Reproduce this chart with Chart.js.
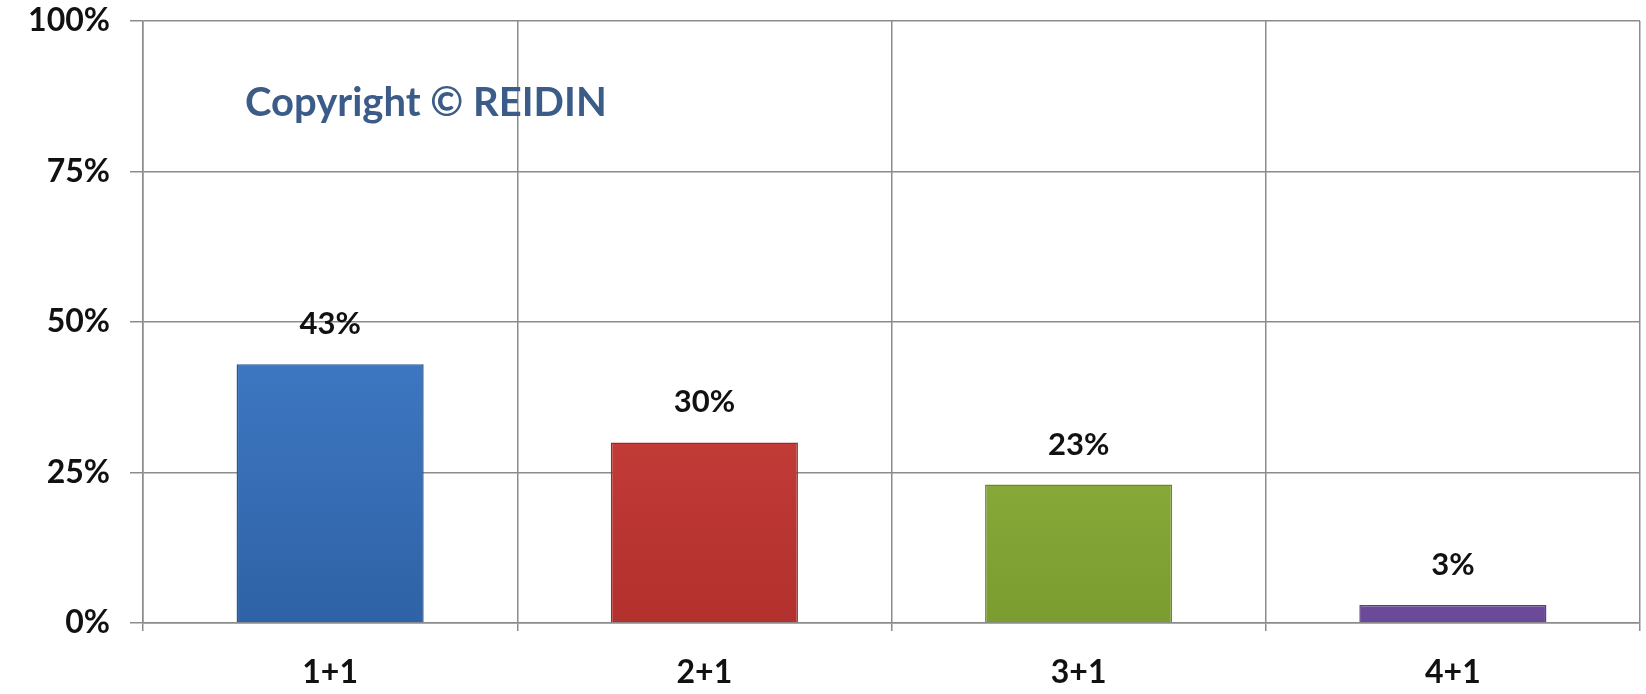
<!DOCTYPE html>
<html>
<head>
<meta charset="utf-8">
<script src="https://cdn.jsdelivr.net/npm/chart.js@4"></script>
<style>
  html, body { margin: 0; padding: 0; background: #fff; }
  #wrap { width: 1646px; height: 694px; position: relative; }
</style>
</head>
<body>
<div id="wrap"><canvas id="chart"></canvas></div>
<script>
const categories = ['1+1', '2+1', '3+1', '4+1'];
const shares = [43, 30, 23, 3];
const yTicks = [0, 25, 50, 75, 100];

// top / bottom colours of each bar's gradient
const barTop = ['#4f92e4', '#e4544f', '#aed255', '#a07ed2'];
const barBottom = ['#2f62a6', '#b2302d', '#7a9c30', '#6a4a98'];
const barEdge = ['#2a5590', '#9a2a28', '#6a8a2a', '#5a3e86'];

const labelFont = { family: 'Lato', weight: 'bold', size: 32 };

// value labels above bars and the watermark text
const annotate = {
    id: 'annotate',
    afterDatasetsDraw(chart) {
        const ctx = chart.ctx;
        const meta = chart.getDatasetMeta(0);
        ctx.save();
        ctx.font = 'bold 31px Lato';
        ctx.fillStyle = '#111';
        ctx.textAlign = 'center';
        ctx.textBaseline = 'middle';
        meta.data.forEach((bar, i) => {
            ctx.fillText(shares[i] + '%', bar.x, bar.y - 40);
        });
        ctx.font = 'bold 40px Lato';
        ctx.fillStyle = '#3b5b89';
        ctx.textAlign = 'left';
        ctx.fillText('Copyright © REIDIN', 245, 103);
        ctx.restore();
    }
};

new Chart(document.getElementById('chart').getContext('2d'), {
    type: 'bar',
    data: {
        labels: categories,
        datasets: [{
            data: shares,
            backgroundColor: (c) => {
                const area = c.chart.chartArea;
                if (!area) return barTop[c.dataIndex];
                const g = c.chart.ctx.createLinearGradient(0, area.top, 0, area.bottom);
                g.addColorStop(0, barTop[c.dataIndex]);
                g.addColorStop(1, barBottom[c.dataIndex]);
                return g;
            },
            borderColor: barEdge,
            borderWidth: 1.5,
            barPercentage: 0.5,
            categoryPercentage: 1.0
        }]
    },
    options: {
        responsive: true,
        maintainAspectRatio: false,
        animation: false,
        layout: { padding: { top: 21, right: 6, left: 0, bottom: 0 } },
        plugins: {
            legend: { display: false },
            tooltip: { enabled: false }
        },
        scales: {
            x: {
                grid: { offset: true, color: '#8c8c8c', lineWidth: 1.5, tickLength: 8 },
                border: { color: '#8c8c8c', width: 1.5 },
                ticks: { color: '#111', font: labelFont, padding: 22 },
                afterFit: (s) => { s.height = 71; }
            },
            y: {
                min: 0,
                max: 100,
                afterBuildTicks: (s) => { s.ticks = yTicks.map(v => ({ value: v })); },
                grid: { color: '#8c8c8c', lineWidth: 1.5, tickLength: 13 },
                border: { color: '#8c8c8c', width: 1.5 },
                ticks: { color: '#111', font: labelFont, padding: 20, callback: (v) => v + '%' },
                afterFit: (s) => { s.width = 143; s.paddingTop = 0; }
            }
        }
    },
    plugins: [annotate]
});
</script>
</body>
</html>
